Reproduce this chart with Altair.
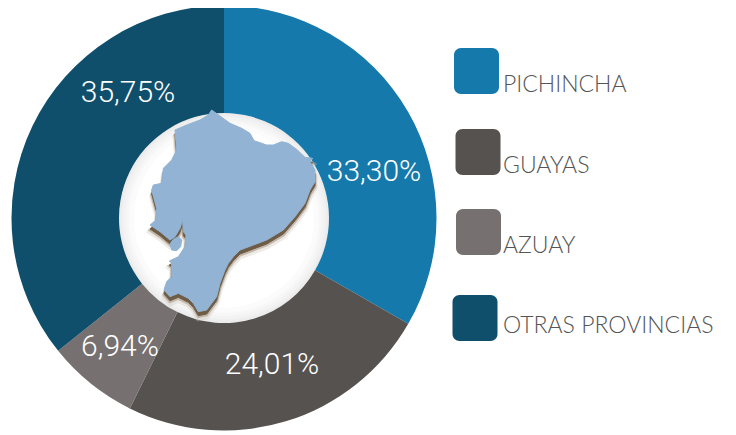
import altair as alt
import pandas as pd

categories = ["PICHINCHA", "GUAYAS", "AZUAY", "OTRAS PROVINCIAS"]
shares = [33.30, 24.01, 6.94, 35.75]
share_labels = ["33,30%", "24,01%", "6,94%", "35,75%"]
colors = ["#157aab", "#56524f", "#767170", "#104f6c"]

map_x = [305,330,360,395,420,432,470,490,515,535,560,585,608,600,615,615,600,585,555,520,470,430,390,370,355,345,330,320,305,290,265,250,235,205,180,162,170,185,185,178,205,225,228,220,218,210,195,180,150,120,138,140,125,130,155,160,185,200,195,230,270,295,305]
map_y = [30,48,70,85,100,122,135,135,125,130,148,172,175,185,210,245,270,310,350,390,420,435,450,470,490,510,550,590,610,630,635,610,595,580,590,570,545,530,490,483,470,440,405,395,360,385,410,420,395,375,360,325,270,255,250,205,180,150,90,75,60,45,30]
island_x = [205,215,212,200,185,180,190,205]
island_y = [410,420,440,452,450,432,418,410]

W, H = 720, 424
CX, CY = 216, 210

# layout of the hand-placed texts and swatches, in pixels of the plot area
label_pos = [(366, 164), (264, 357), (112, 339), (120, 85)]
swatch_pos = [(468.5, 63), (470, 144), (470.5, 224), (467, 310)]
name_baseline = [84, 165, 245, 325]

df = pd.DataFrame({"cat": categories, "share": shares, "label": share_labels, "i": range(4)})
map_df = pd.DataFrame({"mx": map_x, "my": map_y, "i": range(len(map_x))})
island_df = pd.DataFrame({"mx": island_x, "my": island_y, "i": range(len(island_x))})

color = alt.Color("cat:N", scale=alt.Scale(domain=categories, range=colors), legend=None)

donut = alt.Chart(df).mark_arc(innerRadius=105, outerRadius=212.5).encode(
    theta=alt.Theta("share:Q", stack=True, scale=alt.Scale(domain=[0, 100], range=[0, 6.28318530718])),
    order=alt.Order("i:Q"),
    color=color,
    x=alt.value(CX),
    y=alt.value(CY),
)

rings = [
    alt.Chart(df.head(1)).mark_arc(innerRadius=r, outerRadius=105, color="#8a8a8a", opacity=0.03).encode(
        x=alt.value(CX), y=alt.value(CY)
    )
    for r in (90, 95, 98, 101, 103)
]


def map_layer(frame, dx, dy, fill, opacity, sw=1):
    return alt.Chart(frame).mark_line(
        fill=fill, stroke=fill, strokeWidth=sw, opacity=opacity, interpolate="linear"
    ).encode(
        x=alt.X("mx:Q", axis=None, scale=alt.Scale(domain=[0, 690], range=[102 + dx, 332 + dx])),
        y=alt.Y("my:Q", axis=None, scale=alt.Scale(domain=[0, 690], range=[92 + dy, 322 + dy])),
        order=alt.Order("i:Q"),
    )


shadows = [
    map_layer(map_df, 0, 7, "#cfc7bb", 0.35, 5),
    map_layer(map_df, 0, 5, "#a89a88", 0.6, 3),
    map_layer(map_df, 0, 4, "#6e5c46", 1, 1),
]
land = map_layer(map_df, 0, 0, "#92b3d3", 1)
island = map_layer(island_df, 0, 0, "#92b3d3", 1)

pct = [
    alt.Chart(df.iloc[[k]]).mark_text(
        font="Roboto", fontWeight=300, fontSize=30, color="#ffffff", align="center", baseline="middle"
    ).encode(x=alt.value(label_pos[k][0]), y=alt.value(label_pos[k][1]), text="label:N")
    for k in range(4)
]

swatches = [
    alt.Chart(df.iloc[[k]]).mark_rect(width=45, height=46, cornerRadius=7).encode(
        x=alt.value(swatch_pos[k][0]), y=alt.value(swatch_pos[k][1]), color=color
    )
    for k in range(4)
]

names = [
    alt.Chart(df.iloc[[k]]).mark_text(
        font="Lato", fontWeight=300, fontSize=23, color="#555555", align="left", baseline="alphabetic"
    ).encode(x=alt.value(495), y=alt.value(name_baseline[k]), text="cat:N")
    for k in range(4)
]

chart = alt.layer(donut, *rings, *shadows, land, island, *pct, *swatches, *names).resolve_scale(
    x="independent", y="independent"
).properties(
    width=W, height=H, padding=0, autosize=alt.AutoSizeParams(type="none"), background="#ffffff"
).configure_view(stroke=None)

chart.save("out.html", embed_options={"renderer": "svg", "actions": False})
